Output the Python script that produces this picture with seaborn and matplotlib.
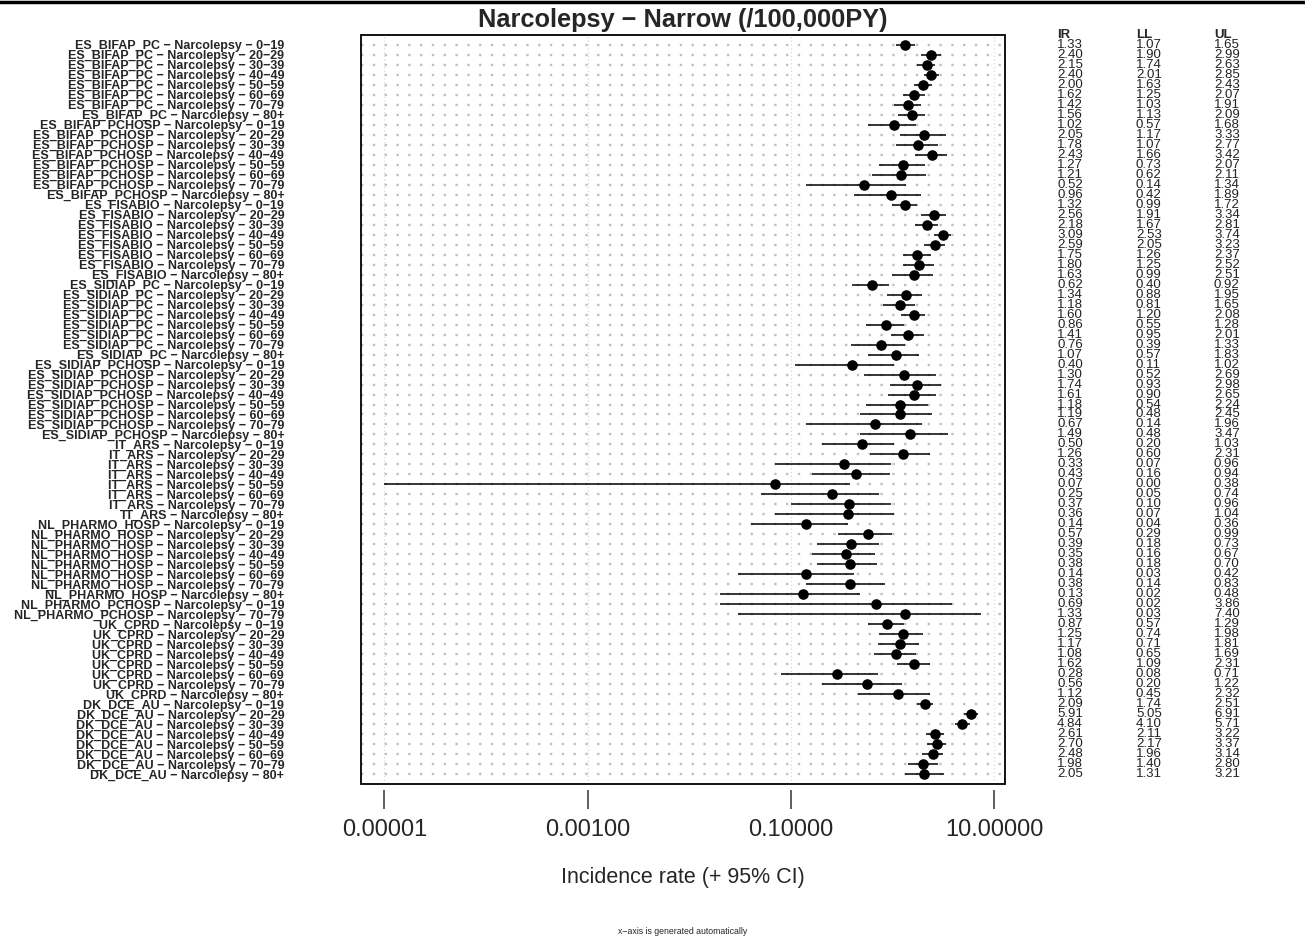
import numpy as np
import pandas as pd
import matplotlib
matplotlib.use("Agg")  # no display
import matplotlib.pyplot as plt
import matplotlib.transforms as mtransforms
from matplotlib.lines import Line2D
from matplotlib.patches import Rectangle
import seaborn as sns

M = "\u2212"  # R draws "-" as a minus sign

# Data
title = f"Narcolepsy {M} Narrow (/100,000PY)"
databases = ["ES_BIFAP_PC", "ES_BIFAP_PCHOSP", "ES_FISABIO", "ES_SIDIAP_PC",
             "ES_SIDIAP_PCHOSP", "IT_ARS", "NL_PHARMO_HOSP", "NL_PHARMO_PCHOSP",
             "UK_CPRD", "DK_DCE_AU"]
all_ages = ["0-19", "20-29", "30-39", "40-49", "50-59", "60-69", "70-79", "80+"]
db_ages = {db: all_ages for db in databases}
db_ages["NL_PHARMO_PCHOSP"] = ["0-19", "70-79"]

ir = [1.33, 2.40, 2.15, 2.40, 2.00, 1.62, 1.42, 1.56,
      1.02, 2.05, 1.78, 2.43, 1.27, 1.21, 0.52, 0.96,
      1.32, 2.56, 2.18, 3.09, 2.59, 1.75, 1.80, 1.63,
      0.62, 1.34, 1.18, 1.60, 0.86, 1.41, 0.76, 1.07,
      0.40, 1.30, 1.74, 1.61, 1.18, 1.19, 0.67, 1.49,
      0.50, 1.26, 0.33, 0.43, 0.07, 0.25, 0.37, 0.36,
      0.14, 0.57, 0.39, 0.35, 0.38, 0.14, 0.38, 0.13,
      0.69, 1.33,
      0.87, 1.25, 1.17, 1.08, 1.62, 0.28, 0.56, 1.12,
      2.09, 5.91, 4.84, 2.61, 2.70, 2.48, 1.98, 2.05]
ll = [1.07, 1.90, 1.74, 2.01, 1.63, 1.25, 1.03, 1.13,
      0.57, 1.17, 1.07, 1.66, 0.73, 0.62, 0.14, 0.42,
      0.99, 1.91, 1.67, 2.53, 2.05, 1.26, 1.25, 0.99,
      0.40, 0.88, 0.81, 1.20, 0.55, 0.95, 0.39, 0.57,
      0.11, 0.52, 0.93, 0.90, 0.54, 0.48, 0.14, 0.48,
      0.20, 0.60, 0.07, 0.16, 0.00001, 0.05, 0.10, 0.07,
      0.04, 0.29, 0.18, 0.16, 0.18, 0.03, 0.14, 0.02,
      0.02, 0.03,
      0.57, 0.74, 0.71, 0.65, 1.09, 0.08, 0.20, 0.45,
      1.74, 5.05, 4.10, 2.11, 2.17, 1.96, 1.40, 1.31]
ul = [1.65, 2.99, 2.63, 2.85, 2.43, 2.07, 1.91, 2.09,
      1.68, 3.33, 2.77, 3.42, 2.07, 2.11, 1.34, 1.89,
      1.72, 3.34, 2.81, 3.74, 3.23, 2.37, 2.52, 2.51,
      0.92, 1.95, 1.65, 2.08, 1.28, 2.01, 1.33, 1.83,
      1.02, 2.69, 2.98, 2.65, 2.24, 2.45, 1.96, 3.47,
      1.03, 2.31, 0.96, 0.94, 0.38, 0.74, 0.96, 1.04,
      0.36, 0.99, 0.73, 0.67, 0.70, 0.42, 0.83, 0.48,
      3.86, 7.40,
      1.29, 1.98, 1.81, 1.69, 2.31, 0.71, 1.22, 2.32,
      2.51, 6.91, 5.71, 3.22, 3.37, 3.14, 2.80, 3.21]

x_ticks = [0.00001, 0.001, 0.1, 10]
x_ticklabels = ["0.00001", "0.00100", "0.10000", "10.00000"]

labels = [f"{db} {M} Narcolepsy {M} {age.replace('-', M)}"
          for db in databases for age in db_ages[db]]
df = pd.DataFrame({"label": labels, "IR": ir, "LL": ll, "UL": ul})
df["row"] = np.arange(1, len(df) + 1)
n = len(df)

sns.set_style("white")
plt.rcParams["font.family"] = ["Liberation Sans", "DejaVu Sans"]

W, H = 1305, 938
fig = plt.figure(figsize=(W / 100, H / 100), dpi=100)
ax = fig.add_axes([360.6 / W, 1 - 784 / H, (1005 - 360.6) / W, (784 - 35) / H])

# dotted row guides and faint verticals at the ticks
for r in df["row"]:
    ax.axhline(r, color="#c0c0c0", lw=1.7, ls=(0, (1, 4)), zorder=1)
for t in x_ticks:
    ax.axvline(t, color="#d8d8d8", lw=0.9, ls=(0, (1, 2)), zorder=1)

ax.hlines(df["row"], df["LL"], df["UL"], color="black", lw=1.1, zorder=2)
sns.scatterplot(data=df, x="IR", y="row", ax=ax, color="black", s=58,
                edgecolor="black", linewidth=0, zorder=3, legend=False)

ax.set_xscale("log")
lo, hi = np.log10(min(ll)), np.log10(max(ul))
pad = 0.04 * (hi - lo)
ax.set_xlim(10 ** (lo - pad), 10 ** (hi + pad))
ax.set_ylim(n + 1, 0)

ax.spines["bottom"].set_position(("outward", 4))
for s in ax.spines.values():
    s.set_visible(False)
ax.add_patch(Rectangle((0, 0), 1, 1, transform=ax.transAxes, fill=False,
                       lw=1.3, edgecolor="black", zorder=5, clip_on=False))

ax.set_xticks(x_ticks)
ax.set_xticklabels(x_ticklabels)
ax.xaxis.set_minor_locator(matplotlib.ticker.NullLocator())
ax.tick_params(axis="x", direction="out", length=14, width=1.1,
               color="#333333", pad=7, bottom=True, labelsize=17)

ax.set_yticks(df["row"])
ax.set_yticklabels(df["label"], fontweight="bold")
ax.tick_params(axis="y", length=0, pad=55, labelsize=9)

ax.set_xlabel("Incidence rate (+ 95% CI)", fontsize=15.5, labelpad=19)
ax.set_ylabel("")

# IR / LL / UL columns on the right
trans = mtransforms.blended_transform_factory(fig.transFigure, ax.transData)
cols = [("IR", "IR", 1057), ("LL", "LL", 1136), ("UL", "UL", 1214)]
for head, col, xp in cols:
    ax.text(xp / W, 0, head, transform=trans, fontsize=9.5, fontweight="bold",
            ha="left", va="center", clip_on=False)
    for r, v in zip(df["row"], df[col]):
        ax.text(xp / W, r, f"{v:.2f}", transform=trans, fontsize=9.5,
                color="#222222", ha="left", va="center", clip_on=False)

fig.text(683 / W, 1 - 20 / H, title, fontsize=18.3, fontweight="bold",
         ha="center", va="center")
fig.text(683 / W, 1 - 931 / H, f"x{M}axis is generated automatically",
         fontsize=6.3, ha="center", va="center")
fig.add_artist(Line2D([0, 1], [1 - 2 / H, 1 - 2 / H], color="black", lw=2.5,
                      transform=fig.transFigure))

fig.savefig("out.png", dpi=100)
